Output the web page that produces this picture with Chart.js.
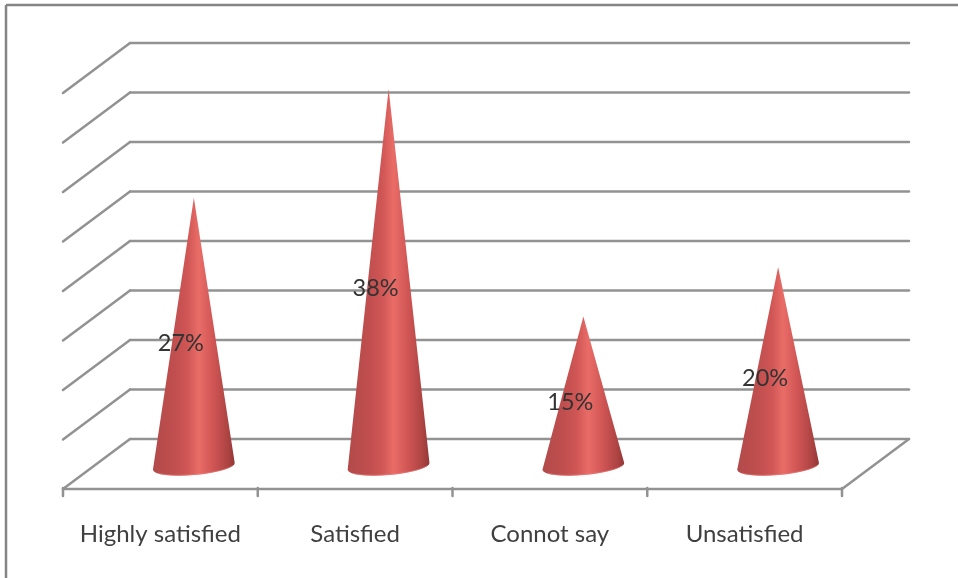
<!DOCTYPE html>
<html lang="en">
<head>
<meta charset="UTF-8">
<title>Satisfaction cone chart</title>
<script src="https://cdn.jsdelivr.net/npm/chart.js"></script>
<style>
  html, body { margin: 0; padding: 0; background: #fff; }
  canvas { display: block; filter: blur(0.45px); }
</style>
</head>
<body>
<canvas id="chart" width="958" height="578"></canvas>
<script>
const categories = ['Highly satisfied', 'Satisfied', 'Connot say', 'Unsatisfied'];
const values = [27, 38, 15, 20];
const yMin = 0;
const yMax = 40;
const yStep = 5;

const gridColor = '#929292';
const depthX = 33.5;   // half of the floor depth, the cones stand in the middle of it
const depthY = 25;

function line(ctx, x1, y1, x2, y2) {
  ctx.beginPath();
  ctx.moveTo(x1, y1);
  ctx.lineTo(x2, y2);
  ctx.stroke();
}

// back wall, side wall, floor and frame
const wallsPlugin = {
  id: 'walls',
  beforeDatasetsDraw(chart) {
    const { ctx, scales: { x, y }, chartArea: a, width, height } = chart;
    ctx.save();
    ctx.strokeStyle = '#858585';
    ctx.lineWidth = 2.5;
    line(ctx, 6, height, 6, 5);
    line(ctx, 6, 5, width, 5);

    ctx.strokeStyle = gridColor;
    ctx.lineCap = 'round';
    y.ticks.forEach(t => {
      const py = y.getPixelForValue(t.value);
      line(ctx, a.left - depthX, py + depthY, a.left + depthX, py - depthY);
      line(ctx, a.left + depthX, py - depthY, a.right + depthX, py - depthY);
    });

    // front edge of the floor with its tick marks
    const floor = y.getPixelForValue(yMin) + depthY;
    line(ctx, a.left - depthX, floor, a.right - depthX, floor);
    line(ctx, a.right - depthX, floor, a.right + depthX, floor - 2 * depthY);
    const step = (a.right - a.left) / categories.length;
    for (let i = 0; i <= categories.length; i++) {
      const px = x.getPixelForValue(i) - step / 2 - depthX;
      line(ctx, px, floor - 1, px, floor + 7);
    }
    ctx.restore();
  },
  // bars become cones: same element geometry, other outline
  beforeDatasetDraw(chart, args) {
    const { ctx } = chart;
    const meta = args.meta;
    meta.data.forEach(bar => {
      const rx = bar.width / 2;
      const ry = 8.5;
      const cy = bar.base + 2.5;
      const tilt = -0.085;
      const left = bar.x - rx;
      const g = ctx.createLinearGradient(left, 0, left + bar.width, 0);
      g.addColorStop(0, '#b24a4a');
      g.addColorStop(0.25, '#c04e4e');
      g.addColorStop(0.42, '#cf5655');
      g.addColorStop(0.56, '#e96c67');
      g.addColorStop(0.74, '#cf5554');
      g.addColorStop(0.92, '#ab4342');
      g.addColorStop(1, '#933636');
      ctx.save();
      ctx.fillStyle = g;
      ctx.beginPath();
      ctx.moveTo(bar.x, bar.y + 1);
      ctx.lineTo(left, cy + rx * Math.sin(-tilt));
      ctx.ellipse(bar.x, cy, rx, ry, tilt, Math.PI, 0, true);
      ctx.closePath();
      ctx.fill();
      // lighter rim along the bottom of the base
      ctx.strokeStyle = 'rgba(236,130,125,0.55)';
      ctx.lineWidth = 1;
      ctx.beginPath();
      ctx.ellipse(bar.x, cy, rx - 0.5, ry - 0.5, tilt, Math.PI * 0.85, Math.PI * 0.1, true);
      ctx.stroke();
      ctx.restore();
    });
    return false;
  },
  afterDatasetsDraw(chart) {
    const { ctx, scales: { y } } = chart;
    ctx.save();
    ctx.font = '23.5px Lato, sans-serif';
    ctx.fillStyle = '#333333';
    ctx.textAlign = 'center';
    ctx.textBaseline = 'middle';
    chart.getDatasetMeta(0).data.forEach((bar, i) => {
      ctx.fillText(values[i] + '%', bar.x - 13, y.getPixelForValue(values[i] / 2) + 13);
    });
    ctx.restore();
  }
};

new Chart(document.getElementById('chart'), {
  type: 'bar',
  data: {
    labels: categories,
    datasets: [{
      data: values,
      backgroundColor: '#c85150',
      barPercentage: 1,
      categoryPercentage: 0.421
    }]
  },
  options: {
    responsive: false,
    animation: false,
    layout: { padding: { left: 96.5, right: 82.5, top: 68, bottom: 0 } },
    plugins: { legend: { display: false }, tooltip: { enabled: false }, title: { display: false } },
    scales: {
      x: {
        grid: { display: false },
        border: { display: false },
        afterFit(scale) { scale.height = 114; },
        ticks: {
          color: '#404040',
          font: { family: 'Lato, sans-serif', size: 24 },
          padding: 48,
          labelOffset: -depthX,
          maxRotation: 0
        }
      },
      y: {
        display: false,
        min: yMin,
        max: yMax,
        ticks: { stepSize: yStep }
      }
    }
  },
  plugins: [wallsPlugin]
});
</script>
</body>
</html>
